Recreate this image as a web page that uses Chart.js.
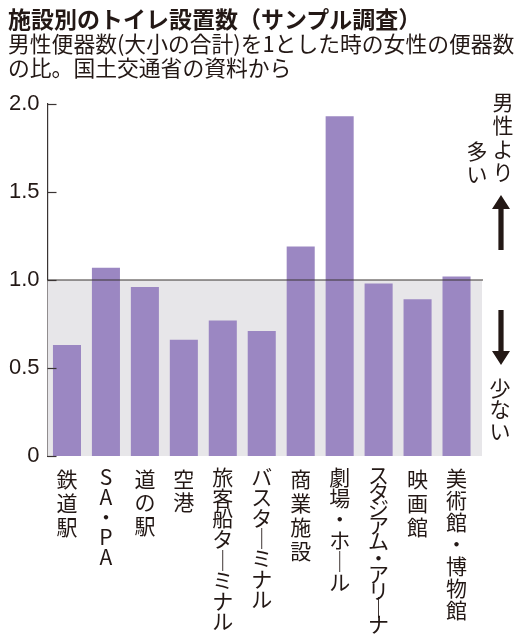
<!DOCTYPE html>
<html lang="ja">
<head>
<meta charset="utf-8">
<script src="https://cdn.jsdelivr.net/npm/chart.js@4.4.1/dist/chart.umd.min.js"></script>
<style>
  body { margin: 0; background: #fff; }
  #wrap { position: relative; width: 524px; height: 640px; overflow: hidden; }
  #grafico { position: absolute; left: 0; top: 0; }
  .titulo { position: absolute; left: 8px; top: 7px; font: bold 23px 'Noto Sans CJK JP', sans-serif; line-height: 23px; color: #231815; white-space: nowrap; }
  .subtitulo { position: absolute; left: 8px; top: 31px; font: 21.8px 'Noto Sans CJK JP', sans-serif; line-height: 23.5px; color: #231815; white-space: nowrap; }
</style>
</head>
<body>
<div id="wrap">
  <canvas id="grafico" width="524" height="640"></canvas>
  <div class="titulo">施設別のトイレ設置数（サンプル調査）</div>
  <div class="subtitulo">男性便器数(大小の合計)を1とした時の女性の便器数<br>の比。国土交通省の資料から</div>
</div>
<script>
// dados do grafico
const categorias = ['鉄道駅', 'SA・PA', '道の駅', '空港', '旅客船ターミナル', 'バスターミナル', '商業施設', '劇場・ホール', 'スタジアム・アリーナ', '映画館', '美術館・博物館'];
const valores = [0.63, 1.07, 0.96, 0.66, 0.77, 0.71, 1.19, 1.93, 0.98, 0.89, 1.02];
const ticksY = [0, 0.5, 1.0, 1.5, 2.0];
const rotulosY = ['0', '0.5', '1.0', '1.5', '2.0'];
const notaCima = ['男性より', '多い'];
const notaBaixo = '少ない';

// altura de linha de cada rotulo vertical (px)
const alturaLinha = [24, 20, 23.5, 23.5, 20.6, 20.3, 24, 21, 16.5, 24, 22];

const corTexto = '#231815';

// texto vertical: um caractere por linha, "ー" vira traço vertical
function vertical(txt) {
    return Array.from(txt).map(c => c === 'ー' ? '｜' : c);
}

const fundoCinza = {
    id: 'fundoCinza',
    beforeDatasetsDraw(chart) {
        const { ctx, chartArea, scales } = chart;
        const y1 = scales.y.getPixelForValue(1);
        const y0 = scales.y.getPixelForValue(0);
        ctx.save();
        ctx.fillStyle = '#e7e6e9';
        ctx.fillRect(chartArea.left, y1, chartArea.right + 6 - chartArea.left, y0 - y1);
        ctx.restore();
    },
    afterDatasetsDraw(chart) {
        const { ctx, chartArea, scales } = chart;
        const y1 = scales.y.getPixelForValue(1);
        ctx.save();
        ctx.strokeStyle = '#3a3433';
        ctx.lineWidth = 1.2;
        ctx.beginPath();
        ctx.moveTo(chartArea.left, y1);
        ctx.lineTo(chartArea.right + 7, y1);
        ctx.stroke();

        // marcas do eixo y para dentro
        const x = scales.y.right;
        for (const v of ticksY) {
            const y = Math.round(scales.y.getPixelForValue(v)) + 0.5;
            ctx.beginPath();
            ctx.moveTo(x, y);
            ctx.lineTo(x + 9, y);
            ctx.stroke();
        }
        ctx.restore();
    }
};

function seta(ctx, x, yPonta, yFim, paraCima) {
    const dir = paraCima ? 1 : -1;
    const cab = 14;
    ctx.beginPath();
    ctx.moveTo(x, yPonta);
    ctx.lineTo(x + 9, yPonta + dir * cab);
    ctx.lineTo(x + 2.6, yPonta + dir * cab);
    ctx.lineTo(x + 2.6, yFim);
    ctx.lineTo(x - 2.6, yFim);
    ctx.lineTo(x - 2.6, yPonta + dir * cab);
    ctx.lineTo(x - 9, yPonta + dir * cab);
    ctx.closePath();
    ctx.fill();
}

const anotacoes = {
    id: 'anotacoes',
    afterDraw(chart) {
        const { ctx } = chart;
        ctx.save();
        ctx.fillStyle = corTexto;
        ctx.font = '21px "Noto Sans CJK JP", sans-serif';
        ctx.textAlign = 'center';
        ctx.textBaseline = 'middle';

        // "男性より" coluna direita, "多い" coluna esquerda (alinhada embaixo)
        let chars = Array.from(notaCima[0]);
        chars.forEach((c, i) => ctx.fillText(c, 503, 102 + i * 23.5));
        chars = Array.from(notaCima[1]);
        chars.forEach((c, i) => ctx.fillText(c, 477, 102 + (4 - chars.length + i) * 23.5 + 2));

        chars = Array.from(notaBaixo);
        chars.forEach((c, i) => ctx.fillText(c, 500, 388 + i * 21.5));

        seta(ctx, 501, 195, 250, true);
        seta(ctx, 501, 365, 310, false);
        ctx.restore();
    }
};

new Chart(document.getElementById('grafico'), {
    type: 'bar',
    data: {
        labels: categorias.map(vertical),
        datasets: [{
            data: valores,
            backgroundColor: '#9b87c2',
            borderWidth: 0,
            barPercentage: 0.72,
            categoryPercentage: 1
        }]
    },
    options: {
        responsive: false,
        animation: false,
        layout: { padding: { top: 104, left: 0, right: 48, bottom: 0 } },
        plugins: { legend: { display: false }, tooltip: { enabled: false } },
        scales: {
            x: {
                grid: { display: false, drawTicks: false },
                border: { display: false },
                afterFit: s => { s.height = 184; },
                ticks: {
                    autoSkip: false,
                    maxRotation: 0,
                    minRotation: 0,
                    padding: 11,
                    color: corTexto,
                    font: ctx => ({ family: '"Noto Sans CJK JP", sans-serif', size: 21, lineHeight: alturaLinha[ctx.index] + 'px' })
                }
            },
            y: {
                min: 0,
                max: 2,
                afterFit: s => { s.width = 47.5; },
                afterBuildTicks: s => { s.ticks = ticksY.map(v => ({ value: v })); },
                grid: { display: false, drawTicks: false },
                border: { display: true, color: '#3a3433', width: 1.2 },
                ticks: {
                    padding: 8,
                    color: corTexto,
                    font: { family: '"Liberation Sans Narrow", "Liberation Sans", sans-serif', size: 22 },
                    callback: (v, i) => rotulosY[i]
                }
            }
        }
    },
    plugins: [fundoCinza, anotacoes]
});
</script>
</body>
</html>
